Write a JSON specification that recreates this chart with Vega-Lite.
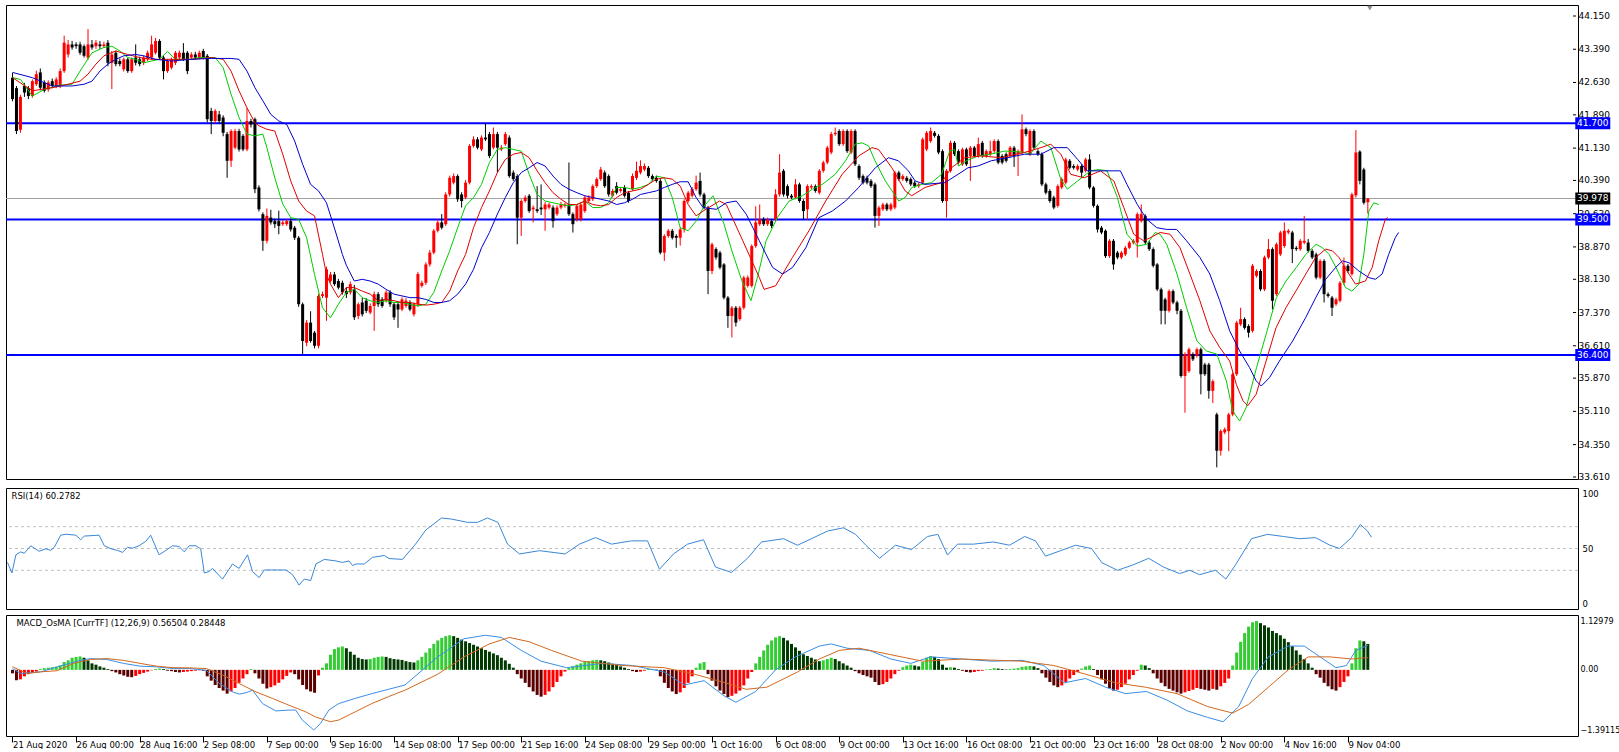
{
"$schema":"https://vega.github.io/schema/vega-lite/v6.json",
"padding":{"left":4,"top":4,"right":0,"bottom":0},
"background":"#ffffff",
"spacing":4,
"config":{"view":{"stroke":"#000000","strokeWidth":1},"axis":{"labelFont":"DejaVu Sans","labelFontSize":8.5,"labelColor":"#000000","tickColor":"#000000","domain":false,"grid":false,"labelOverlap":false},"text":{"font":"DejaVu Sans","fontSize":8.5}},
"resolve":{"scale":{"color":"independent"}},
"datasets":{
"bars":[
{"i":0,"o":42.74,"h":42.85,"l":42.2,"c":42.25,"m":-0.08},
{"i":1,"o":42.5,"h":42.55,"l":41.45,"c":41.52,"m":-0.24},
{"i":2,"o":41.55,"h":42.35,"l":41.48,"c":42.3,"m":-0.22},
{"i":3,"o":42.55,"h":42.62,"l":42.3,"c":42.4,"m":-0.15},
{"i":4,"o":42.5,"h":42.55,"l":42.25,"c":42.32,"m":-0.1},
{"i":5,"o":42.32,"h":42.7,"l":42.28,"c":42.66,"m":-0.07},
{"i":6,"o":42.59,"h":42.9,"l":42.55,"c":42.82,"m":-0.04},
{"i":7,"o":42.86,"h":42.95,"l":42.45,"c":42.51,"m":0.02},
{"i":8,"o":42.63,"h":42.68,"l":42.4,"c":42.44,"m":0.04},
{"i":9,"o":42.47,"h":42.68,"l":42.42,"c":42.63,"m":0.05},
{"i":10,"o":42.66,"h":42.72,"l":42.5,"c":42.55,"m":0.06},
{"i":11,"o":42.55,"h":42.75,"l":42.5,"c":42.7,"m":0.07},
{"i":12,"o":42.55,"h":42.95,"l":42.5,"c":42.89,"m":0.1},
{"i":13,"o":42.89,"h":43.7,"l":42.85,"c":43.54,"m":0.18},
{"i":14,"o":43.27,"h":43.6,"l":43.2,"c":43.5,"m":0.22},
{"i":15,"o":43.5,"h":43.58,"l":43.38,"c":43.43,"m":0.28},
{"i":16,"o":43.5,"h":43.55,"l":43.4,"c":43.46,"m":0.3},
{"i":17,"o":43.5,"h":43.56,"l":43.26,"c":43.31,"m":0.31},
{"i":18,"o":43.46,"h":43.5,"l":43.2,"c":43.24,"m":0.28},
{"i":19,"o":43.2,"h":43.85,"l":43.15,"c":43.5,"m":0.22},
{"i":20,"o":43.5,"h":43.6,"l":43.38,"c":43.43,"m":0.15},
{"i":21,"o":43.46,"h":43.6,"l":43.4,"c":43.54,"m":0.12},
{"i":22,"o":43.5,"h":43.58,"l":43.4,"c":43.46,"m":0.08},
{"i":23,"o":43.46,"h":43.56,"l":43.42,"c":43.5,"m":0.05},
{"i":24,"o":43.54,"h":43.6,"l":43.0,"c":43.08,"m":0.02},
{"i":25,"o":43.08,"h":43.35,"l":42.48,"c":43.27,"m":-0.03},
{"i":26,"o":43.31,"h":43.36,"l":43.0,"c":43.05,"m":-0.06},
{"i":27,"o":43.12,"h":43.18,"l":43.0,"c":43.05,"m":-0.1},
{"i":28,"o":42.93,"h":43.2,"l":42.88,"c":43.16,"m":-0.13},
{"i":29,"o":43.16,"h":43.2,"l":42.85,"c":42.89,"m":-0.16},
{"i":30,"o":42.89,"h":43.2,"l":42.85,"c":43.16,"m":-0.17},
{"i":31,"o":43.2,"h":43.5,"l":43.02,"c":43.08,"m":-0.14},
{"i":32,"o":43.16,"h":43.22,"l":43.0,"c":43.05,"m":-0.1},
{"i":33,"o":43.08,"h":43.25,"l":43.03,"c":43.2,"m":-0.07},
{"i":34,"o":43.16,"h":43.36,"l":43.12,"c":43.31,"m":-0.04},
{"i":35,"o":43.2,"h":43.7,"l":43.15,"c":43.5,"m":-0.01},
{"i":36,"o":43.31,"h":43.65,"l":43.27,"c":43.58,"m":0.02},
{"i":37,"o":43.58,"h":43.62,"l":43.15,"c":43.2,"m":0.03},
{"i":38,"o":43.2,"h":43.25,"l":42.7,"c":42.89,"m":0.02},
{"i":39,"o":42.89,"h":43.16,"l":42.85,"c":43.12,"m":-0.02},
{"i":40,"o":42.97,"h":43.2,"l":42.93,"c":43.16,"m":-0.03},
{"i":41,"o":43.08,"h":43.35,"l":43.03,"c":43.31,"m":-0.05},
{"i":42,"o":43.2,"h":43.36,"l":43.16,"c":43.31,"m":-0.06},
{"i":43,"o":43.31,"h":43.53,"l":43.12,"c":43.16,"m":-0.05},
{"i":44,"o":43.31,"h":43.35,"l":42.82,"c":42.89,"m":-0.04},
{"i":45,"o":43.2,"h":43.32,"l":43.15,"c":43.27,"m":-0.03},
{"i":46,"o":43.27,"h":43.33,"l":43.15,"c":43.2,"m":-0.02},
{"i":47,"o":43.2,"h":43.36,"l":43.16,"c":43.31,"m":-0.01},
{"i":48,"o":43.35,"h":43.4,"l":43.16,"c":43.2,"m":-0.02},
{"i":49,"o":43.24,"h":43.28,"l":41.72,"c":41.79,"m":-0.15},
{"i":50,"o":41.98,"h":42.05,"l":41.45,"c":41.75,"m":-0.25},
{"i":51,"o":41.75,"h":42.02,"l":41.7,"c":41.98,"m":-0.35},
{"i":52,"o":41.9,"h":41.98,"l":41.7,"c":41.75,"m":-0.42},
{"i":53,"o":41.83,"h":41.88,"l":41.4,"c":41.48,"m":-0.48},
{"i":54,"o":41.45,"h":41.5,"l":40.45,"c":40.84,"m":-0.55},
{"i":55,"o":40.84,"h":41.56,"l":40.7,"c":41.52,"m":-0.5},
{"i":56,"o":41.14,"h":41.57,"l":41.1,"c":41.52,"m":-0.42},
{"i":57,"o":41.52,"h":41.57,"l":41.05,"c":41.1,"m":-0.3},
{"i":58,"o":41.41,"h":41.45,"l":41.06,"c":41.1,"m":-0.2},
{"i":59,"o":41.1,"h":42.05,"l":41.06,"c":41.75,"m":-0.1},
{"i":60,"o":41.75,"h":41.8,"l":41.6,"c":41.67,"m":0.02},
{"i":61,"o":41.79,"h":41.83,"l":40.1,"c":40.19,"m":-0.08},
{"i":62,"o":40.23,"h":40.28,"l":39.68,"c":39.73,"m":-0.2},
{"i":63,"o":39.62,"h":39.66,"l":38.78,"c":39.01,"m":-0.32},
{"i":64,"o":39.01,"h":39.75,"l":38.95,"c":39.58,"m":-0.43},
{"i":65,"o":39.54,"h":39.72,"l":39.38,"c":39.43,"m":-0.4},
{"i":66,"o":39.46,"h":39.52,"l":39.3,"c":39.39,"m":-0.36},
{"i":67,"o":39.46,"h":39.7,"l":39.16,"c":39.35,"m":-0.3},
{"i":68,"o":39.39,"h":39.48,"l":39.35,"c":39.43,"m":-0.22},
{"i":69,"o":39.39,"h":39.5,"l":39.35,"c":39.46,"m":-0.14},
{"i":70,"o":39.46,"h":39.52,"l":39.22,"c":39.27,"m":-0.06},
{"i":71,"o":39.31,"h":39.35,"l":39.03,"c":39.08,"m":-0.1},
{"i":72,"o":39.08,"h":39.12,"l":37.5,"c":37.56,"m":-0.22},
{"i":73,"o":37.56,"h":37.6,"l":36.42,"c":36.72,"m":-0.35},
{"i":74,"o":36.68,"h":37.2,"l":36.6,"c":37.14,"m":-0.45},
{"i":75,"o":37.14,"h":37.4,"l":36.68,"c":36.72,"m":-0.5},
{"i":76,"o":36.91,"h":36.95,"l":36.55,"c":36.61,"m":-0.53},
{"i":77,"o":36.61,"h":37.8,"l":36.55,"c":37.75,"m":-0.13},
{"i":78,"o":37.75,"h":37.85,"l":37.7,"c":37.79,"m":0.05},
{"i":79,"o":37.71,"h":38.42,"l":37.18,"c":38.36,"m":0.15},
{"i":80,"o":38.09,"h":38.3,"l":38.05,"c":38.24,"m":0.35},
{"i":81,"o":38.24,"h":38.3,"l":37.98,"c":38.02,"m":0.48},
{"i":82,"o":38.09,"h":38.14,"l":37.9,"c":37.94,"m":0.52},
{"i":83,"o":38.05,"h":38.1,"l":37.78,"c":37.83,"m":0.54},
{"i":84,"o":37.86,"h":37.95,"l":37.7,"c":37.79,"m":0.5},
{"i":85,"o":37.83,"h":38.08,"l":37.78,"c":38.02,"m":0.42},
{"i":86,"o":37.9,"h":38.0,"l":37.2,"c":37.26,"m":0.35},
{"i":87,"o":37.29,"h":37.6,"l":37.22,"c":37.56,"m":0.28},
{"i":88,"o":37.6,"h":37.71,"l":37.28,"c":37.33,"m":0.25},
{"i":89,"o":37.64,"h":37.7,"l":37.36,"c":37.41,"m":0.24},
{"i":90,"o":37.37,"h":37.58,"l":37.33,"c":37.52,"m":0.25},
{"i":91,"o":37.52,"h":37.85,"l":36.95,"c":37.79,"m":0.28},
{"i":92,"o":37.79,"h":37.84,"l":37.5,"c":37.56,"m":0.3},
{"i":93,"o":37.67,"h":37.72,"l":37.48,"c":37.52,"m":0.31},
{"i":94,"o":37.64,"h":37.88,"l":37.6,"c":37.83,"m":0.3},
{"i":95,"o":37.83,"h":37.88,"l":37.5,"c":37.56,"m":0.27},
{"i":96,"o":37.56,"h":37.6,"l":37.2,"c":37.26,"m":0.25},
{"i":97,"o":37.56,"h":37.6,"l":37.02,"c":37.44,"m":0.24},
{"i":98,"o":37.44,"h":37.72,"l":37.4,"c":37.67,"m":0.23},
{"i":99,"o":37.52,"h":37.7,"l":37.48,"c":37.64,"m":0.2},
{"i":100,"o":37.6,"h":37.65,"l":37.4,"c":37.44,"m":0.18},
{"i":101,"o":37.33,"h":37.6,"l":37.28,"c":37.56,"m":0.17},
{"i":102,"o":37.56,"h":38.3,"l":37.5,"c":38.25,"m":0.22},
{"i":103,"o":37.98,"h":38.1,"l":37.94,"c":38.05,"m":0.3},
{"i":104,"o":38.05,"h":38.52,"l":38.0,"c":38.47,"m":0.4},
{"i":105,"o":38.47,"h":38.8,"l":38.42,"c":38.74,"m":0.5},
{"i":106,"o":38.74,"h":39.28,"l":38.7,"c":39.24,"m":0.6},
{"i":107,"o":39.24,"h":39.5,"l":39.2,"c":39.43,"m":0.68},
{"i":108,"o":39.43,"h":39.62,"l":39.27,"c":39.31,"m":0.74},
{"i":109,"o":39.39,"h":40.12,"l":39.35,"c":40.07,"m":0.78},
{"i":110,"o":40.07,"h":40.5,"l":40.02,"c":40.45,"m":0.8},
{"i":111,"o":40.34,"h":40.55,"l":40.3,"c":40.49,"m":0.78},
{"i":112,"o":40.49,"h":40.53,"l":39.9,"c":39.96,"m":0.74},
{"i":113,"o":40.07,"h":40.12,"l":39.77,"c":39.92,"m":0.7},
{"i":114,"o":40.0,"h":40.4,"l":39.96,"c":40.34,"m":0.66},
{"i":115,"o":40.34,"h":41.22,"l":40.3,"c":41.18,"m":0.62},
{"i":116,"o":41.18,"h":41.4,"l":41.14,"c":41.33,"m":0.58},
{"i":117,"o":41.33,"h":41.38,"l":41.1,"c":41.14,"m":0.54},
{"i":118,"o":41.1,"h":41.42,"l":41.06,"c":41.37,"m":0.5},
{"i":119,"o":41.37,"h":41.71,"l":41.29,"c":41.33,"m":0.46},
{"i":120,"o":41.45,"h":41.5,"l":40.9,"c":40.95,"m":0.42},
{"i":121,"o":41.14,"h":41.6,"l":41.1,"c":41.45,"m":0.38},
{"i":122,"o":41.45,"h":41.5,"l":40.57,"c":41.14,"m":0.34},
{"i":123,"o":41.1,"h":41.2,"l":41.06,"c":41.14,"m":0.28},
{"i":124,"o":41.22,"h":41.5,"l":41.18,"c":41.45,"m":0.22},
{"i":125,"o":41.37,"h":41.42,"l":40.45,"c":40.49,"m":0.14},
{"i":126,"o":40.57,"h":40.62,"l":40.38,"c":40.42,"m":0.05},
{"i":127,"o":40.49,"h":40.53,"l":38.93,"c":39.54,"m":-0.1},
{"i":128,"o":39.54,"h":39.96,"l":39.12,"c":39.92,"m":-0.2},
{"i":129,"o":39.92,"h":40.05,"l":39.88,"c":40.0,"m":-0.3},
{"i":130,"o":40.04,"h":40.08,"l":39.65,"c":39.69,"m":-0.4},
{"i":131,"o":39.73,"h":39.82,"l":39.43,"c":39.77,"m":-0.5},
{"i":132,"o":39.73,"h":40.26,"l":39.65,"c":39.69,"m":-0.58},
{"i":133,"o":39.77,"h":40.3,"l":39.6,"c":39.73,"m":-0.62},
{"i":134,"o":39.73,"h":39.9,"l":39.24,"c":39.84,"m":-0.58},
{"i":135,"o":39.77,"h":39.88,"l":39.73,"c":39.84,"m":-0.5},
{"i":136,"o":39.77,"h":39.82,"l":39.31,"c":39.46,"m":-0.4},
{"i":137,"o":39.62,"h":39.82,"l":39.58,"c":39.77,"m":-0.28},
{"i":138,"o":39.77,"h":39.9,"l":39.73,"c":39.84,"m":-0.15},
{"i":139,"o":39.81,"h":39.88,"l":39.77,"c":39.84,"m":-0.04},
{"i":140,"o":39.84,"h":40.8,"l":39.58,"c":39.62,"m":0.04},
{"i":141,"o":39.62,"h":39.66,"l":39.2,"c":39.39,"m":0.08},
{"i":142,"o":39.5,"h":39.85,"l":39.45,"c":39.81,"m":0.12},
{"i":143,"o":39.5,"h":39.88,"l":39.45,"c":39.84,"m":0.15},
{"i":144,"o":39.69,"h":40.05,"l":39.65,"c":40.0,"m":0.18},
{"i":145,"o":39.92,"h":40.05,"l":39.88,"c":40.0,"m":0.2},
{"i":146,"o":39.96,"h":40.3,"l":39.92,"c":40.26,"m":0.22},
{"i":147,"o":40.26,"h":40.46,"l":40.22,"c":40.42,"m":0.23},
{"i":148,"o":40.42,"h":40.7,"l":40.38,"c":40.64,"m":0.22},
{"i":149,"o":40.57,"h":40.62,"l":40.22,"c":40.26,"m":0.2},
{"i":150,"o":40.49,"h":40.53,"l":40.02,"c":40.07,"m":0.17},
{"i":151,"o":40.04,"h":40.2,"l":40.0,"c":40.15,"m":0.14},
{"i":152,"o":40.26,"h":40.35,"l":40.07,"c":40.11,"m":0.11},
{"i":153,"o":40.15,"h":40.24,"l":40.11,"c":40.19,"m":0.08},
{"i":154,"o":40.23,"h":40.28,"l":40.0,"c":40.04,"m":0.05},
{"i":155,"o":40.11,"h":40.15,"l":39.88,"c":39.92,"m":0.02},
{"i":156,"o":40.19,"h":40.55,"l":40.15,"c":40.49,"m":-0.03},
{"i":157,"o":40.45,"h":40.82,"l":40.4,"c":40.61,"m":-0.05},
{"i":158,"o":40.57,"h":40.85,"l":40.53,"c":40.72,"m":-0.04},
{"i":159,"o":40.64,"h":40.78,"l":40.6,"c":40.72,"m":-0.02},
{"i":160,"o":40.68,"h":40.72,"l":40.45,"c":40.49,"m":0.02},
{"i":161,"o":40.49,"h":40.53,"l":40.38,"c":40.42,"m":0.02},
{"i":162,"o":40.45,"h":40.5,"l":40.34,"c":40.38,"m":0.01},
{"i":163,"o":40.38,"h":40.42,"l":38.7,"c":38.74,"m":-0.15},
{"i":164,"o":38.74,"h":39.16,"l":38.55,"c":39.12,"m":-0.3},
{"i":165,"o":39.12,"h":39.28,"l":39.08,"c":39.24,"m":-0.42},
{"i":166,"o":39.24,"h":39.28,"l":39.04,"c":39.08,"m":-0.5},
{"i":167,"o":39.12,"h":39.16,"l":38.85,"c":39.08,"m":-0.56},
{"i":168,"o":39.08,"h":39.31,"l":38.9,"c":39.27,"m":-0.52},
{"i":169,"o":39.27,"h":39.96,"l":39.2,"c":39.92,"m":-0.42},
{"i":170,"o":39.92,"h":40.15,"l":39.88,"c":40.11,"m":-0.3},
{"i":171,"o":40.04,"h":40.24,"l":40.0,"c":40.19,"m":-0.15},
{"i":172,"o":40.19,"h":40.5,"l":40.15,"c":40.34,"m":0.05},
{"i":173,"o":40.38,"h":40.57,"l":40.02,"c":40.07,"m":0.15},
{"i":174,"o":40.07,"h":40.11,"l":39.73,"c":39.77,"m":0.18},
{"i":175,"o":39.77,"h":39.81,"l":37.79,"c":38.32,"m":-0.1},
{"i":176,"o":38.32,"h":38.97,"l":38.25,"c":38.93,"m":-0.25},
{"i":177,"o":38.82,"h":38.86,"l":38.58,"c":38.63,"m":-0.38},
{"i":178,"o":38.74,"h":38.78,"l":38.36,"c":38.4,"m":-0.48},
{"i":179,"o":38.47,"h":38.5,"l":37.67,"c":37.71,"m":-0.56},
{"i":180,"o":37.71,"h":37.75,"l":37.02,"c":37.29,"m":-0.63},
{"i":181,"o":37.29,"h":37.52,"l":36.8,"c":37.48,"m":-0.6},
{"i":182,"o":37.48,"h":37.52,"l":37.05,"c":37.14,"m":-0.55},
{"i":183,"o":37.22,"h":37.52,"l":37.18,"c":37.48,"m":-0.48},
{"i":184,"o":37.48,"h":38.21,"l":37.44,"c":38.17,"m":-0.36},
{"i":185,"o":37.98,"h":38.22,"l":37.94,"c":38.17,"m":-0.2},
{"i":186,"o":37.98,"h":38.93,"l":37.94,"c":38.89,"m":-0.05},
{"i":187,"o":38.89,"h":39.8,"l":38.85,"c":39.43,"m":0.15},
{"i":188,"o":39.39,"h":39.84,"l":39.35,"c":39.5,"m":0.3},
{"i":189,"o":39.5,"h":39.55,"l":39.35,"c":39.39,"m":0.45},
{"i":190,"o":39.39,"h":39.54,"l":39.35,"c":39.5,"m":0.58},
{"i":191,"o":39.46,"h":39.5,"l":39.3,"c":39.35,"m":0.68},
{"i":192,"o":39.5,"h":40.19,"l":39.45,"c":40.07,"m":0.75},
{"i":193,"o":40.07,"h":40.99,"l":40.02,"c":40.57,"m":0.78},
{"i":194,"o":40.61,"h":40.65,"l":40.02,"c":40.07,"m":0.74},
{"i":195,"o":40.26,"h":40.3,"l":39.98,"c":40.04,"m":0.68},
{"i":196,"o":40.04,"h":40.08,"l":39.96,"c":40.0,"m":0.6},
{"i":197,"o":40.0,"h":40.42,"l":39.96,"c":40.3,"m":0.52},
{"i":198,"o":40.3,"h":40.34,"l":39.88,"c":39.92,"m":0.44},
{"i":199,"o":39.92,"h":39.96,"l":39.5,"c":39.69,"m":0.36},
{"i":200,"o":39.73,"h":40.3,"l":39.5,"c":40.26,"m":0.32},
{"i":201,"o":40.23,"h":40.3,"l":40.19,"c":40.26,"m":0.28},
{"i":202,"o":40.26,"h":40.3,"l":40.11,"c":40.15,"m":0.24},
{"i":203,"o":40.11,"h":40.65,"l":40.07,"c":40.61,"m":0.2},
{"i":204,"o":40.61,"h":40.84,"l":40.57,"c":40.8,"m":0.22},
{"i":205,"o":40.8,"h":41.18,"l":40.76,"c":41.14,"m":0.25},
{"i":206,"o":41.03,"h":41.5,"l":40.99,"c":41.45,"m":0.28},
{"i":207,"o":41.45,"h":41.6,"l":41.41,"c":41.48,"m":0.25},
{"i":208,"o":41.52,"h":41.56,"l":41.18,"c":41.22,"m":0.2},
{"i":209,"o":41.22,"h":41.56,"l":41.18,"c":41.52,"m":0.15},
{"i":210,"o":41.52,"h":41.56,"l":41.02,"c":41.06,"m":0.1},
{"i":211,"o":41.03,"h":41.56,"l":40.99,"c":41.52,"m":0.05},
{"i":212,"o":41.52,"h":41.56,"l":40.72,"c":40.76,"m":-0.03},
{"i":213,"o":40.72,"h":40.76,"l":40.4,"c":40.45,"m":-0.08},
{"i":214,"o":40.49,"h":40.53,"l":40.3,"c":40.34,"m":-0.12},
{"i":215,"o":40.45,"h":40.5,"l":40.3,"c":40.34,"m":-0.15},
{"i":216,"o":40.38,"h":40.42,"l":40.22,"c":40.26,"m":-0.18},
{"i":217,"o":40.3,"h":40.34,"l":39.31,"c":39.58,"m":-0.28},
{"i":218,"o":39.58,"h":39.81,"l":39.35,"c":39.77,"m":-0.35},
{"i":219,"o":39.73,"h":39.88,"l":39.69,"c":39.84,"m":-0.33},
{"i":220,"o":39.84,"h":39.88,"l":39.69,"c":39.73,"m":-0.28},
{"i":221,"o":39.73,"h":39.88,"l":39.69,"c":39.84,"m":-0.2},
{"i":222,"o":39.77,"h":40.61,"l":39.73,"c":40.57,"m":-0.1},
{"i":223,"o":40.57,"h":40.61,"l":40.38,"c":40.42,"m":-0.02},
{"i":224,"o":40.42,"h":40.53,"l":40.38,"c":40.49,"m":0.06},
{"i":225,"o":40.45,"h":40.49,"l":40.34,"c":40.38,"m":0.1},
{"i":226,"o":40.42,"h":40.46,"l":40.26,"c":40.3,"m":0.12},
{"i":227,"o":40.34,"h":40.38,"l":40.22,"c":40.26,"m":0.1},
{"i":228,"o":40.26,"h":40.34,"l":40.22,"c":40.3,"m":0.08},
{"i":229,"o":40.34,"h":41.37,"l":40.3,"c":41.33,"m":0.18},
{"i":230,"o":41.1,"h":41.52,"l":41.06,"c":41.48,"m":0.28},
{"i":231,"o":41.29,"h":41.6,"l":41.25,"c":41.52,"m":0.32},
{"i":232,"o":41.48,"h":41.52,"l":41.37,"c":41.41,"m":0.3},
{"i":233,"o":41.41,"h":41.45,"l":40.99,"c":41.03,"m":0.25},
{"i":234,"o":41.06,"h":41.1,"l":39.88,"c":39.92,"m":0.12},
{"i":235,"o":39.92,"h":40.65,"l":39.54,"c":40.61,"m":0.05},
{"i":236,"o":40.61,"h":41.3,"l":40.57,"c":41.25,"m":0.06},
{"i":237,"o":41.25,"h":41.29,"l":40.95,"c":40.99,"m":0.05},
{"i":238,"o":41.06,"h":41.1,"l":40.76,"c":40.8,"m":0.02},
{"i":239,"o":40.76,"h":41.14,"l":40.72,"c":41.1,"m":-0.02},
{"i":240,"o":41.1,"h":41.14,"l":40.72,"c":40.76,"m":-0.05},
{"i":241,"o":40.95,"h":41.18,"l":40.38,"c":41.14,"m":-0.06},
{"i":242,"o":41.14,"h":41.18,"l":40.91,"c":40.95,"m":-0.05},
{"i":243,"o":40.95,"h":41.37,"l":40.91,"c":41.22,"m":-0.03},
{"i":244,"o":41.25,"h":41.29,"l":40.91,"c":40.95,"m":-0.02},
{"i":245,"o":40.95,"h":41.1,"l":40.91,"c":41.06,"m":0.01},
{"i":246,"o":40.99,"h":41.3,"l":40.95,"c":41.06,"m":0.02},
{"i":247,"o":41.06,"h":41.33,"l":41.02,"c":41.29,"m":0.04},
{"i":248,"o":41.29,"h":41.33,"l":40.76,"c":40.8,"m":0.03},
{"i":249,"o":40.95,"h":40.99,"l":40.76,"c":40.8,"m":0.02},
{"i":250,"o":40.99,"h":41.03,"l":40.8,"c":40.84,"m":0.01},
{"i":251,"o":40.95,"h":41.18,"l":40.91,"c":41.14,"m":0.02},
{"i":252,"o":41.14,"h":41.18,"l":40.7,"c":40.95,"m":0.03},
{"i":253,"o":40.99,"h":41.1,"l":40.49,"c":41.06,"m":0.04},
{"i":254,"o":41.03,"h":41.9,"l":40.99,"c":41.56,"m":0.07},
{"i":255,"o":41.56,"h":41.6,"l":41.4,"c":41.45,"m":0.08},
{"i":256,"o":40.99,"h":41.56,"l":40.95,"c":41.52,"m":0.09},
{"i":257,"o":41.52,"h":41.56,"l":41.1,"c":41.14,"m":0.08},
{"i":258,"o":41.06,"h":41.1,"l":40.95,"c":40.99,"m":0.04},
{"i":259,"o":40.99,"h":41.03,"l":40.26,"c":40.3,"m":-0.08},
{"i":260,"o":40.3,"h":40.34,"l":40.07,"c":40.11,"m":-0.18},
{"i":261,"o":40.15,"h":40.19,"l":39.88,"c":39.92,"m":-0.28},
{"i":262,"o":40.0,"h":40.04,"l":39.73,"c":39.77,"m":-0.36},
{"i":263,"o":39.81,"h":40.3,"l":39.77,"c":40.26,"m":-0.4},
{"i":264,"o":40.23,"h":40.46,"l":40.19,"c":40.42,"m":-0.36},
{"i":265,"o":40.34,"h":40.91,"l":40.3,"c":40.87,"m":-0.28},
{"i":266,"o":40.84,"h":40.88,"l":40.64,"c":40.68,"m":-0.2},
{"i":267,"o":40.72,"h":40.76,"l":40.64,"c":40.68,"m":-0.12},
{"i":268,"o":40.64,"h":40.76,"l":40.6,"c":40.72,"m":-0.05},
{"i":269,"o":40.72,"h":40.76,"l":40.45,"c":40.57,"m":0.03},
{"i":270,"o":40.61,"h":40.91,"l":40.57,"c":40.87,"m":0.08},
{"i":271,"o":40.87,"h":40.99,"l":40.19,"c":40.23,"m":0.1},
{"i":272,"o":40.23,"h":40.26,"l":39.77,"c":39.81,"m":0.02},
{"i":273,"o":39.81,"h":39.84,"l":39.2,"c":39.27,"m":-0.12},
{"i":274,"o":39.31,"h":39.35,"l":39.16,"c":39.2,"m":-0.22},
{"i":275,"o":39.24,"h":39.27,"l":38.62,"c":38.66,"m":-0.32},
{"i":276,"o":38.66,"h":39.05,"l":38.62,"c":39.01,"m":-0.42},
{"i":277,"o":39.01,"h":39.05,"l":38.35,"c":38.47,"m":-0.48},
{"i":278,"o":38.74,"h":38.78,"l":38.59,"c":38.63,"m":-0.46},
{"i":279,"o":38.63,"h":38.78,"l":38.59,"c":38.74,"m":-0.4},
{"i":280,"o":38.7,"h":38.89,"l":38.66,"c":38.85,"m":-0.32},
{"i":281,"o":38.85,"h":39.01,"l":38.82,"c":38.97,"m":-0.22},
{"i":282,"o":38.97,"h":39.05,"l":38.93,"c":39.01,"m":-0.12},
{"i":283,"o":38.97,"h":39.66,"l":38.63,"c":39.62,"m":-0.02},
{"i":284,"o":39.46,"h":39.84,"l":39.43,"c":39.62,"m":0.12},
{"i":285,"o":39.58,"h":39.62,"l":38.93,"c":38.97,"m":0.1},
{"i":286,"o":38.97,"h":39.01,"l":38.78,"c":38.82,"m":0.04},
{"i":287,"o":38.82,"h":38.86,"l":38.4,"c":38.44,"m":-0.08},
{"i":288,"o":38.47,"h":38.5,"l":37.86,"c":37.9,"m":-0.2},
{"i":289,"o":37.9,"h":37.94,"l":37.1,"c":37.41,"m":-0.3},
{"i":290,"o":37.67,"h":37.71,"l":37.1,"c":37.41,"m":-0.38},
{"i":291,"o":37.41,"h":37.9,"l":37.37,"c":37.86,"m":-0.44},
{"i":292,"o":37.86,"h":37.9,"l":37.56,"c":37.6,"m":-0.48},
{"i":293,"o":37.6,"h":37.64,"l":37.33,"c":37.41,"m":-0.52},
{"i":294,"o":37.41,"h":37.45,"l":35.88,"c":35.92,"m":-0.55},
{"i":295,"o":35.92,"h":36.46,"l":35.08,"c":36.42,"m":-0.52},
{"i":296,"o":36.03,"h":36.57,"l":35.99,"c":36.53,"m":-0.49},
{"i":297,"o":36.42,"h":36.46,"l":36.26,"c":36.3,"m":-0.46},
{"i":298,"o":36.38,"h":36.57,"l":36.34,"c":36.53,"m":-0.42},
{"i":299,"o":36.53,"h":36.57,"l":35.5,"c":35.96,"m":-0.44},
{"i":300,"o":36.18,"h":36.22,"l":35.92,"c":35.96,"m":-0.46},
{"i":301,"o":36.18,"h":36.22,"l":35.4,"c":35.58,"m":-0.48},
{"i":302,"o":35.58,"h":35.84,"l":35.3,"c":35.8,"m":-0.44},
{"i":303,"o":35.04,"h":35.08,"l":33.83,"c":34.21,"m":-0.46},
{"i":304,"o":34.21,"h":34.7,"l":34.1,"c":34.66,"m":-0.38},
{"i":305,"o":34.63,"h":34.74,"l":34.59,"c":34.7,"m":-0.3},
{"i":306,"o":34.66,"h":35.08,"l":34.2,"c":35.04,"m":-0.2},
{"i":307,"o":35.04,"h":36.0,"l":35.0,"c":35.96,"m":0.1},
{"i":308,"o":35.96,"h":37.18,"l":35.92,"c":37.14,"m":0.4},
{"i":309,"o":37.1,"h":37.48,"l":37.06,"c":37.22,"m":0.65},
{"i":310,"o":37.22,"h":37.26,"l":36.98,"c":37.02,"m":0.85},
{"i":311,"o":37.06,"h":37.1,"l":36.8,"c":36.91,"m":1.0},
{"i":312,"o":36.95,"h":38.48,"l":36.91,"c":38.44,"m":1.1},
{"i":313,"o":38.21,"h":38.36,"l":38.17,"c":38.32,"m":1.13},
{"i":314,"o":38.32,"h":38.36,"l":37.86,"c":37.9,"m":1.08},
{"i":315,"o":37.9,"h":38.67,"l":37.86,"c":38.63,"m":1.03},
{"i":316,"o":38.63,"h":39.05,"l":38.59,"c":38.82,"m":0.98},
{"i":317,"o":38.82,"h":38.86,"l":37.44,"c":37.64,"m":0.9},
{"i":318,"o":37.79,"h":38.97,"l":37.75,"c":38.93,"m":0.85},
{"i":319,"o":38.7,"h":39.24,"l":38.66,"c":39.2,"m":0.8},
{"i":320,"o":38.89,"h":39.43,"l":38.85,"c":39.24,"m":0.72},
{"i":321,"o":39.2,"h":39.28,"l":39.16,"c":39.24,"m":0.64},
{"i":322,"o":39.2,"h":39.24,"l":38.5,"c":38.82,"m":0.55},
{"i":323,"o":38.85,"h":38.89,"l":38.78,"c":38.82,"m":0.45},
{"i":324,"o":38.82,"h":39.05,"l":38.78,"c":39.01,"m":0.35},
{"i":325,"o":38.97,"h":39.58,"l":38.93,"c":39.01,"m":0.25},
{"i":326,"o":38.97,"h":39.05,"l":38.74,"c":38.78,"m":0.15},
{"i":327,"o":38.78,"h":38.82,"l":38.59,"c":38.63,"m":0.05},
{"i":328,"o":38.7,"h":38.74,"l":38.13,"c":38.17,"m":-0.1},
{"i":329,"o":38.17,"h":38.59,"l":38.13,"c":38.55,"m":-0.18},
{"i":330,"o":38.55,"h":38.59,"l":37.6,"c":37.79,"m":-0.3},
{"i":331,"o":37.79,"h":37.83,"l":37.71,"c":37.75,"m":-0.38},
{"i":332,"o":37.71,"h":37.75,"l":37.29,"c":37.48,"m":-0.45},
{"i":333,"o":37.56,"h":37.71,"l":37.52,"c":37.67,"m":-0.48},
{"i":334,"o":37.64,"h":38.09,"l":37.6,"c":38.05,"m":-0.4},
{"i":335,"o":38.05,"h":38.63,"l":38.0,"c":38.44,"m":-0.28},
{"i":336,"o":38.44,"h":38.48,"l":38.28,"c":38.32,"m":-0.15},
{"i":337,"o":38.25,"h":40.11,"l":38.21,"c":40.07,"m":0.15},
{"i":338,"o":40.05,"h":41.54,"l":40.0,"c":41.03,"m":0.5},
{"i":339,"o":41.05,"h":41.08,"l":40.3,"c":40.38,"m":0.68},
{"i":340,"o":40.64,"h":40.68,"l":39.84,"c":39.88,"m":0.66},
{"i":341,"o":39.892,"h":39.983,"l":39.634,"c":39.978,"m":0.6}
],
"allig":[
{"s":"lips","i":0,"p":42.74},{"s":"lips","i":2,"p":42.7},{"s":"lips","i":5,"p":42.32},{"s":"lips","i":8,"p":42.47},{"s":"lips","i":12,"p":42.57},{"s":"lips","i":15,"p":42.59},{"s":"lips","i":17,"p":42.89},{"s":"lips","i":20,"p":43.31},{"s":"lips","i":23,"p":43.43},{"s":"lips","i":25,"p":43.46},{"s":"lips","i":27,"p":43.35},{"s":"lips","i":29,"p":43.2},{"s":"lips","i":31,"p":43.16},{"s":"lips","i":33,"p":43.08},{"s":"lips","i":35,"p":43.12},{"s":"lips","i":37,"p":43.16},{"s":"lips","i":39,"p":43.34},{"s":"lips","i":41,"p":43.16},{"s":"lips","i":43,"p":43.16},{"s":"lips","i":45,"p":43.16},{"s":"lips","i":47,"p":43.2},{"s":"lips","i":49,"p":43.2},{"s":"lips","i":51,"p":43.2},{"s":"lips","i":53,"p":42.97},{"s":"lips","i":55,"p":42.36},{"s":"lips","i":57,"p":41.83},{"s":"lips","i":59,"p":41.45},{"s":"lips","i":61,"p":41.41},{"s":"lips","i":63,"p":41.45},{"s":"lips","i":64,"p":41.14},{"s":"lips","i":66,"p":40.45},{"s":"lips","i":68,"p":39.85},{"s":"lips","i":70,"p":39.54},{"s":"lips","i":72,"p":39.5},{"s":"lips","i":74,"p":39.08},{"s":"lips","i":76,"p":38.24},{"s":"lips","i":78,"p":37.48},{"s":"lips","i":80,"p":37.25},{"s":"lips","i":82,"p":37.56},{"s":"lips","i":84,"p":37.83},{"s":"lips","i":86,"p":37.9},{"s":"lips","i":88,"p":37.71},{"s":"lips","i":90,"p":37.64},{"s":"lips","i":92,"p":37.6},{"s":"lips","i":94,"p":37.64},{"s":"lips","i":96,"p":37.6},{"s":"lips","i":98,"p":37.6},{"s":"lips","i":100,"p":37.56},{"s":"lips","i":102,"p":37.52},{"s":"lips","i":104,"p":37.56},{"s":"lips","i":106,"p":37.83},{"s":"lips","i":108,"p":38.32},{"s":"lips","i":110,"p":38.78},{"s":"lips","i":112,"p":39.31},{"s":"lips","i":114,"p":39.81},{"s":"lips","i":116,"p":40.0},{"s":"lips","i":118,"p":40.3},{"s":"lips","i":120,"p":40.8},{"s":"lips","i":122,"p":41.1},{"s":"lips","i":124,"p":41.14},{"s":"lips","i":126,"p":41.1},{"s":"lips","i":128,"p":41.06},{"s":"lips","i":130,"p":40.53},{"s":"lips","i":132,"p":40.07},{"s":"lips","i":134,"p":39.92},{"s":"lips","i":136,"p":39.88},{"s":"lips","i":138,"p":39.84},{"s":"lips","i":140,"p":39.81},{"s":"lips","i":142,"p":39.84},{"s":"lips","i":144,"p":39.92},{"s":"lips","i":146,"p":39.77},{"s":"lips","i":148,"p":39.77},{"s":"lips","i":150,"p":39.88},{"s":"lips","i":152,"p":40.23},{"s":"lips","i":154,"p":40.23},{"s":"lips","i":156,"p":40.19},{"s":"lips","i":158,"p":40.23},{"s":"lips","i":160,"p":40.3},{"s":"lips","i":162,"p":40.49},{"s":"lips","i":164,"p":40.45},{"s":"lips","i":166,"p":40.0},{"s":"lips","i":168,"p":39.31},{"s":"lips","i":170,"p":39.24},{"s":"lips","i":172,"p":39.46},{"s":"lips","i":174,"p":39.8},{"s":"lips","i":176.25,"p":40.04},{"s":"lips","i":179,"p":39.4},{"s":"lips","i":181,"p":38.78},{"s":"lips","i":183.5,"p":38.1},{"s":"lips","i":185.8,"p":37.64},{"s":"lips","i":187.5,"p":38.2},{"s":"lips","i":189.6,"p":39.01},{"s":"lips","i":192.5,"p":39.55},{"s":"lips","i":195.4,"p":39.92},{"s":"lips","i":198.75,"p":40.04},{"s":"lips","i":201.25,"p":40.19},{"s":"lips","i":203.75,"p":40.3},{"s":"lips","i":207,"p":40.53},{"s":"lips","i":209.6,"p":40.84},{"s":"lips","i":212,"p":41.22},{"s":"lips","i":213.75,"p":41.25},{"s":"lips","i":215.4,"p":41.18},{"s":"lips","i":217,"p":40.84},{"s":"lips","i":219.6,"p":40.38},{"s":"lips","i":223,"p":39.92},{"s":"lips","i":224.6,"p":40.0},{"s":"lips","i":226.25,"p":40.23},{"s":"lips","i":228.75,"p":40.3},{"s":"lips","i":231.25,"p":40.34},{"s":"lips","i":233.75,"p":40.53},{"s":"lips","i":235.8,"p":41.06},{"s":"lips","i":237,"p":41.1},{"s":"lips","i":238,"p":40.72},{"s":"lips","i":240,"p":40.84},{"s":"lips","i":243,"p":40.95},{"s":"lips","i":246,"p":40.99},{"s":"lips","i":249.6,"p":41.06},{"s":"lips","i":251,"p":41.06},{"s":"lips","i":254.6,"p":41.03},{"s":"lips","i":256,"p":40.99},{"s":"lips","i":258.75,"p":41.29},{"s":"lips","i":261.25,"p":41.14},{"s":"lips","i":263.75,"p":40.42},{"s":"lips","i":265.4,"p":40.19},{"s":"lips","i":268,"p":40.38},{"s":"lips","i":271.25,"p":40.61},{"s":"lips","i":273.3,"p":40.64},{"s":"lips","i":275.4,"p":40.61},{"s":"lips","i":278,"p":40.0},{"s":"lips","i":280.4,"p":39.16},{"s":"lips","i":283,"p":38.89},{"s":"lips","i":285.4,"p":38.93},{"s":"lips","i":287.5,"p":39.2},{"s":"lips","i":288.75,"p":39.16},{"s":"lips","i":290.4,"p":38.93},{"s":"lips","i":293,"p":38.25},{"s":"lips","i":295.4,"p":37.48},{"s":"lips","i":298,"p":36.72},{"s":"lips","i":300.4,"p":36.49},{"s":"lips","i":303,"p":36.42},{"s":"lips","i":305.4,"p":35.81},{"s":"lips","i":307,"p":35.12},{"s":"lips","i":308.75,"p":34.89},{"s":"lips","i":310.4,"p":35.2},{"s":"lips","i":313,"p":36.11},{"s":"lips","i":315.4,"p":36.87},{"s":"lips","i":318,"p":37.71},{"s":"lips","i":320.4,"p":38.09},{"s":"lips","i":323,"p":38.4},{"s":"lips","i":325.4,"p":38.7},{"s":"lips","i":328,"p":38.93},{"s":"lips","i":329.6,"p":38.85},{"s":"lips","i":331.25,"p":38.7},{"s":"lips","i":333,"p":38.4},{"s":"lips","i":335.4,"p":37.94},{"s":"lips","i":337,"p":37.86},{"s":"lips","i":338.75,"p":38.02},{"s":"lips","i":340,"p":38.7},{"s":"lips","i":341.25,"p":39.69},{"s":"lips","i":342.5,"p":39.88},{"s":"lips","i":343.75,"p":39.84},
{"s":"teeth","i":0,"p":42.74},{"s":"teeth","i":5,"p":42.44},{"s":"teeth","i":10,"p":42.51},{"s":"teeth","i":14,"p":42.59},{"s":"teeth","i":17,"p":42.66},{"s":"teeth","i":19,"p":42.82},{"s":"teeth","i":21,"p":43.05},{"s":"teeth","i":23,"p":43.24},{"s":"teeth","i":26,"p":43.35},{"s":"teeth","i":29,"p":43.27},{"s":"teeth","i":32,"p":43.2},{"s":"teeth","i":35,"p":43.16},{"s":"teeth","i":40,"p":43.16},{"s":"teeth","i":45,"p":43.16},{"s":"teeth","i":50,"p":43.2},{"s":"teeth","i":53,"p":43.16},{"s":"teeth","i":55,"p":42.89},{"s":"teeth","i":57,"p":42.44},{"s":"teeth","i":59,"p":42.05},{"s":"teeth","i":61,"p":41.71},{"s":"teeth","i":62,"p":41.64},{"s":"teeth","i":64,"p":41.56},{"s":"teeth","i":66,"p":41.52},{"s":"teeth","i":68,"p":40.99},{"s":"teeth","i":70,"p":40.38},{"s":"teeth","i":72,"p":39.92},{"s":"teeth","i":74,"p":39.69},{"s":"teeth","i":76,"p":39.58},{"s":"teeth","i":78,"p":38.7},{"s":"teeth","i":79,"p":38.24},{"s":"teeth","i":80,"p":38.02},{"s":"teeth","i":82,"p":37.71},{"s":"teeth","i":84,"p":37.94},{"s":"teeth","i":86,"p":37.94},{"s":"teeth","i":88,"p":37.86},{"s":"teeth","i":90,"p":37.79},{"s":"teeth","i":92,"p":37.64},{"s":"teeth","i":94,"p":37.67},{"s":"teeth","i":96,"p":37.64},{"s":"teeth","i":98,"p":37.6},{"s":"teeth","i":100,"p":37.6},{"s":"teeth","i":102,"p":37.56},{"s":"teeth","i":104,"p":37.54},{"s":"teeth","i":106,"p":37.56},{"s":"teeth","i":108,"p":37.6},{"s":"teeth","i":110,"p":37.86},{"s":"teeth","i":112,"p":38.32},{"s":"teeth","i":114,"p":38.7},{"s":"teeth","i":116,"p":39.31},{"s":"teeth","i":118,"p":39.77},{"s":"teeth","i":120,"p":40.15},{"s":"teeth","i":122,"p":40.57},{"s":"teeth","i":124,"p":40.87},{"s":"teeth","i":126,"p":40.99},{"s":"teeth","i":128,"p":41.03},{"s":"teeth","i":130,"p":40.91},{"s":"teeth","i":132,"p":40.61},{"s":"teeth","i":134,"p":40.34},{"s":"teeth","i":136,"p":40.11},{"s":"teeth","i":138,"p":39.96},{"s":"teeth","i":140,"p":39.84},{"s":"teeth","i":142,"p":39.84},{"s":"teeth","i":144,"p":39.92},{"s":"teeth","i":146,"p":39.84},{"s":"teeth","i":148,"p":39.81},{"s":"teeth","i":150,"p":39.84},{"s":"teeth","i":152,"p":40.0},{"s":"teeth","i":154,"p":40.11},{"s":"teeth","i":156,"p":40.15},{"s":"teeth","i":158,"p":40.19},{"s":"teeth","i":160,"p":40.3},{"s":"teeth","i":162,"p":40.42},{"s":"teeth","i":164,"p":40.45},{"s":"teeth","i":166,"p":40.42},{"s":"teeth","i":168,"p":40.26},{"s":"teeth","i":170,"p":39.84},{"s":"teeth","i":172,"p":39.58},{"s":"teeth","i":173.75,"p":39.69},{"s":"teeth","i":177.9,"p":39.92},{"s":"teeth","i":179.6,"p":39.84},{"s":"teeth","i":183.75,"p":39.01},{"s":"teeth","i":187.9,"p":38.17},{"s":"teeth","i":189.1,"p":37.9},{"s":"teeth","i":192,"p":37.98},{"s":"teeth","i":196.25,"p":38.63},{"s":"teeth","i":200.4,"p":39.24},{"s":"teeth","i":204.6,"p":39.92},{"s":"teeth","i":208.75,"p":40.53},{"s":"teeth","i":212.9,"p":40.95},{"s":"teeth","i":216.25,"p":41.14},{"s":"teeth","i":217.9,"p":41.1},{"s":"teeth","i":221.25,"p":40.68},{"s":"teeth","i":224.6,"p":40.15},{"s":"teeth","i":226.25,"p":40.04},{"s":"teeth","i":229.6,"p":40.23},{"s":"teeth","i":233.75,"p":40.34},{"s":"teeth","i":236.25,"p":40.68},{"s":"teeth","i":239.6,"p":40.91},{"s":"teeth","i":243.75,"p":40.95},{"s":"teeth","i":248.75,"p":40.91},{"s":"teeth","i":254.6,"p":41.03},{"s":"teeth","i":258.75,"p":41.14},{"s":"teeth","i":261.25,"p":41.22},{"s":"teeth","i":263.75,"p":40.99},{"s":"teeth","i":266.25,"p":40.53},{"s":"teeth","i":269.6,"p":40.45},{"s":"teeth","i":273.75,"p":40.61},{"s":"teeth","i":277.1,"p":40.38},{"s":"teeth","i":279.6,"p":39.77},{"s":"teeth","i":282.1,"p":39.16},{"s":"teeth","i":284.6,"p":39.01},{"s":"teeth","i":286.25,"p":39.08},{"s":"teeth","i":288.75,"p":39.2},{"s":"teeth","i":291.25,"p":39.16},{"s":"teeth","i":293.75,"p":38.85},{"s":"teeth","i":296.25,"p":38.25},{"s":"teeth","i":298.75,"p":37.64},{"s":"teeth","i":301.25,"p":36.95},{"s":"teeth","i":303.75,"p":36.57},{"s":"teeth","i":306.25,"p":36.26},{"s":"teeth","i":307.9,"p":35.73},{"s":"teeth","i":309.6,"p":35.35},{"s":"teeth","i":310.8,"p":35.24},{"s":"teeth","i":312.9,"p":35.5},{"s":"teeth","i":315.4,"p":36.26},{"s":"teeth","i":317.9,"p":37.02},{"s":"teeth","i":320.4,"p":37.48},{"s":"teeth","i":322.9,"p":37.86},{"s":"teeth","i":325.4,"p":38.25},{"s":"teeth","i":327.9,"p":38.63},{"s":"teeth","i":330.4,"p":38.82},{"s":"teeth","i":332.1,"p":38.78},{"s":"teeth","i":333.75,"p":38.63},{"s":"teeth","i":336.25,"p":38.25},{"s":"teeth","i":337.9,"p":38.02},{"s":"teeth","i":340.4,"p":38.09},{"s":"teeth","i":342.1,"p":38.4},{"s":"teeth","i":343.75,"p":39.01},{"s":"teeth","i":345.4,"p":39.5},{"s":"teeth","i":346,"p":39.54},
{"s":"jaw","i":0,"p":42.86},{"s":"jaw","i":5,"p":42.74},{"s":"jaw","i":10,"p":42.55},{"s":"jaw","i":15,"p":42.55},{"s":"jaw","i":18,"p":42.59},{"s":"jaw","i":20,"p":42.66},{"s":"jaw","i":22,"p":42.89},{"s":"jaw","i":24,"p":43.05},{"s":"jaw","i":26,"p":43.16},{"s":"jaw","i":28,"p":43.24},{"s":"jaw","i":31,"p":43.27},{"s":"jaw","i":33,"p":43.24},{"s":"jaw","i":36,"p":43.16},{"s":"jaw","i":40,"p":43.12},{"s":"jaw","i":45,"p":43.16},{"s":"jaw","i":50,"p":43.18},{"s":"jaw","i":55,"p":43.18},{"s":"jaw","i":57,"p":43.16},{"s":"jaw","i":59,"p":42.89},{"s":"jaw","i":61,"p":42.51},{"s":"jaw","i":63,"p":42.21},{"s":"jaw","i":65,"p":41.9},{"s":"jaw","i":67,"p":41.75},{"s":"jaw","i":69,"p":41.67},{"s":"jaw","i":71,"p":41.29},{"s":"jaw","i":73,"p":40.76},{"s":"jaw","i":75,"p":40.3},{"s":"jaw","i":77,"p":40.15},{"s":"jaw","i":79,"p":39.88},{"s":"jaw","i":81,"p":39.3},{"s":"jaw","i":83,"p":38.7},{"s":"jaw","i":84,"p":38.45},{"s":"jaw","i":86,"p":38.09},{"s":"jaw","i":88,"p":38.13},{"s":"jaw","i":90,"p":38.09},{"s":"jaw","i":92,"p":38.02},{"s":"jaw","i":94,"p":37.9},{"s":"jaw","i":96,"p":37.79},{"s":"jaw","i":98,"p":37.75},{"s":"jaw","i":100,"p":37.71},{"s":"jaw","i":102,"p":37.71},{"s":"jaw","i":104,"p":37.67},{"s":"jaw","i":106,"p":37.6},{"s":"jaw","i":108,"p":37.6},{"s":"jaw","i":110,"p":37.64},{"s":"jaw","i":112,"p":37.79},{"s":"jaw","i":114,"p":38.02},{"s":"jaw","i":116,"p":38.36},{"s":"jaw","i":118,"p":38.85},{"s":"jaw","i":120,"p":39.2},{"s":"jaw","i":122,"p":39.62},{"s":"jaw","i":124,"p":40.0},{"s":"jaw","i":126,"p":40.34},{"s":"jaw","i":128,"p":40.57},{"s":"jaw","i":130,"p":40.68},{"s":"jaw","i":132,"p":40.8},{"s":"jaw","i":134,"p":40.72},{"s":"jaw","i":136,"p":40.49},{"s":"jaw","i":138,"p":40.3},{"s":"jaw","i":140,"p":40.19},{"s":"jaw","i":142,"p":40.11},{"s":"jaw","i":144,"p":40.04},{"s":"jaw","i":146,"p":40.0},{"s":"jaw","i":148,"p":39.96},{"s":"jaw","i":150,"p":39.92},{"s":"jaw","i":152,"p":39.84},{"s":"jaw","i":154,"p":39.88},{"s":"jaw","i":156,"p":39.96},{"s":"jaw","i":158,"p":40.07},{"s":"jaw","i":160,"p":40.11},{"s":"jaw","i":162,"p":40.15},{"s":"jaw","i":164,"p":40.23},{"s":"jaw","i":166,"p":40.3},{"s":"jaw","i":168,"p":40.36},{"s":"jaw","i":170,"p":40.36},{"s":"jaw","i":172,"p":40.0},{"s":"jaw","i":173.75,"p":39.77},{"s":"jaw","i":177.1,"p":39.73},{"s":"jaw","i":179.6,"p":39.88},{"s":"jaw","i":182.1,"p":39.92},{"s":"jaw","i":184.6,"p":39.62},{"s":"jaw","i":187.9,"p":39.01},{"s":"jaw","i":191.25,"p":38.4},{"s":"jaw","i":193.75,"p":38.25},{"s":"jaw","i":196.25,"p":38.4},{"s":"jaw","i":199.6,"p":38.85},{"s":"jaw","i":202.9,"p":39.54},{"s":"jaw","i":206.25,"p":39.69},{"s":"jaw","i":209.6,"p":39.92},{"s":"jaw","i":212.9,"p":40.23},{"s":"jaw","i":217.1,"p":40.68},{"s":"jaw","i":220.4,"p":40.91},{"s":"jaw","i":222.9,"p":40.84},{"s":"jaw","i":225.4,"p":40.61},{"s":"jaw","i":227.1,"p":40.38},{"s":"jaw","i":229.6,"p":40.3},{"s":"jaw","i":234.6,"p":40.34},{"s":"jaw","i":237.9,"p":40.53},{"s":"jaw","i":240.4,"p":40.68},{"s":"jaw","i":242.9,"p":40.72},{"s":"jaw","i":246.25,"p":40.84},{"s":"jaw","i":250.4,"p":40.91},{"s":"jaw","i":254.6,"p":40.99},{"s":"jaw","i":258.75,"p":40.99},{"s":"jaw","i":262,"p":41.14},{"s":"jaw","i":265.4,"p":41.14},{"s":"jaw","i":268,"p":40.87},{"s":"jaw","i":270.4,"p":40.61},{"s":"jaw","i":273.75,"p":40.61},{"s":"jaw","i":278.75,"p":40.61},{"s":"jaw","i":280.4,"p":40.3},{"s":"jaw","i":283,"p":39.84},{"s":"jaw","i":285.4,"p":39.5},{"s":"jaw","i":287.9,"p":39.31},{"s":"jaw","i":290.4,"p":39.27},{"s":"jaw","i":292.9,"p":39.27},{"s":"jaw","i":295.4,"p":39.01},{"s":"jaw","i":298.75,"p":38.63},{"s":"jaw","i":301.25,"p":38.25},{"s":"jaw","i":303.75,"p":37.64},{"s":"jaw","i":306.25,"p":36.95},{"s":"jaw","i":308.75,"p":36.49},{"s":"jaw","i":311.25,"p":36.11},{"s":"jaw","i":312.9,"p":35.81},{"s":"jaw","i":314.2,"p":35.69},{"s":"jaw","i":316.25,"p":35.88},{"s":"jaw","i":318.75,"p":36.26},{"s":"jaw","i":322.1,"p":36.72},{"s":"jaw","i":325.4,"p":37.26},{"s":"jaw","i":327.9,"p":37.71},{"s":"jaw","i":330.4,"p":38.13},{"s":"jaw","i":332.9,"p":38.4},{"s":"jaw","i":334.6,"p":38.55},{"s":"jaw","i":336.25,"p":38.51},{"s":"jaw","i":338.75,"p":38.32},{"s":"jaw","i":341.25,"p":38.17},{"s":"jaw","i":342.9,"p":38.13},{"s":"jaw","i":344.6,"p":38.25},{"s":"jaw","i":346.25,"p":38.7},{"s":"jaw","i":347.9,"p":39.08},{"s":"jaw","i":348.75,"p":39.2}
],
"rsi":[
{"i":0,"v":37.2},{"i":1.1,"v":27.5},{"i":2.1,"v":44.2},{"i":3.3,"v":46.9},{"i":4.2,"v":45.6},{"i":5.8,"v":52.5},{"i":7.9,"v":47.5},{"i":9.6,"v":49.7},{"i":10.8,"v":48.3},{"i":11.7,"v":51.1},{"i":13.3,"v":62.2},{"i":14.6,"v":63.1},{"i":17.1,"v":62.2},{"i":18.3,"v":58.1},{"i":19.2,"v":61.4},{"i":22.9,"v":62.2},{"i":24.2,"v":52.5},{"i":26.25,"v":49.2},{"i":27.5,"v":48.3},{"i":28.75,"v":46.4},{"i":30,"v":51.1},{"i":31.25,"v":50.3},{"i":32.9,"v":52.5},{"i":34.6,"v":56.7},{"i":35.8,"v":62.2},{"i":37.9,"v":44.2},{"i":39.6,"v":48.3},{"i":41.25,"v":52.5},{"i":42.9,"v":51.9},{"i":44.2,"v":46.9},{"i":45.4,"v":52.5},{"i":47.1,"v":52.5},{"i":48.3,"v":49.7},{"i":49.2,"v":27.5},{"i":50.4,"v":28.9},{"i":51.25,"v":31.7},{"i":53.75,"v":21.9},{"i":56.25,"v":35.8},{"i":57.9,"v":31.7},{"i":60,"v":44.2},{"i":61.25,"v":28.9},{"i":62.9,"v":23.3},{"i":64.2,"v":30.3},{"i":69.6,"v":30.3},{"i":71.25,"v":26.1},{"i":72.9,"v":16.4},{"i":74.2,"v":22},{"i":75.8,"v":20.6},{"i":77.1,"v":35.8},{"i":79.2,"v":40},{"i":82.1,"v":38.6},{"i":83.75,"v":37.2},{"i":85.4,"v":38.6},{"i":86.25,"v":34.4},{"i":87.1,"v":35.8},{"i":89.2,"v":35.8},{"i":91.25,"v":41.9},{"i":94.2,"v":43.6},{"i":95.4,"v":40.8},{"i":98.75,"v":40},{"i":102,"v":54},{"i":104.6,"v":67},{"i":108.5,"v":78},{"i":111,"v":77},{"i":115,"v":74},{"i":117.5,"v":74},{"i":120,"v":78},{"i":122.6,"v":74},{"i":125,"v":54},{"i":128,"v":45},{"i":133,"v":48},{"i":139.4,"v":45},{"i":143,"v":54},{"i":147,"v":60},{"i":151,"v":54},{"i":156,"v":57},{"i":160,"v":57},{"i":163,"v":31},{"i":166.5,"v":45},{"i":170,"v":54},{"i":174,"v":58},{"i":177,"v":33},{"i":181,"v":28},{"i":185,"v":41},{"i":188.5,"v":56},{"i":194,"v":59},{"i":197.5,"v":53},{"i":201,"v":59},{"i":205,"v":66},{"i":209,"v":69},{"i":212,"v":63},{"i":214.6,"v":53},{"i":218,"v":41},{"i":222,"v":53},{"i":226,"v":49},{"i":230,"v":61},{"i":232.6,"v":63},{"i":235,"v":44},{"i":237.5,"v":54},{"i":241.5,"v":54},{"i":246.5,"v":56},{"i":250.5,"v":53},{"i":254.3,"v":61},{"i":257,"v":57},{"i":259.5,"v":43},{"i":263.3,"v":48},{"i":267,"v":53},{"i":271,"v":50},{"i":273.6,"v":37},{"i":277.5,"v":30},{"i":281.4,"v":35},{"i":285.3,"v":41},{"i":289,"v":33},{"i":293,"v":27},{"i":295.6,"v":30},{"i":298,"v":26},{"i":302,"v":30},{"i":304.6,"v":22},{"i":307,"v":35},{"i":311,"v":59},{"i":315,"v":63},{"i":319,"v":61},{"i":323,"v":59},{"i":327,"v":60},{"i":330.6,"v":53},{"i":333,"v":50},{"i":336,"v":60},{"i":338.2,"v":72},{"i":340,"v":66},{"i":341,"v":60.28}
],
"macd":[
{"s":"macd","i":0,"v":0.03},{"s":"macd","i":2.1,"v":-0.085},{"s":"macd","i":7.1,"v":-0.046},{"s":"macd","i":11.25,"v":0.07},{"s":"macd","i":17.1,"v":0.22},{"s":"macd","i":19.6,"v":0.26},{"s":"macd","i":23.75,"v":0.24},{"s":"macd","i":27.9,"v":0.15},{"s":"macd","i":32.1,"v":0.085},{"s":"macd","i":36.25,"v":0.07},{"s":"macd","i":40.4,"v":0.03},{"s":"macd","i":44.6,"v":0.03},{"s":"macd","i":48.75,"v":-0.01},{"s":"macd","i":52.1,"v":-0.32},{"s":"macd","i":55.4,"v":-0.51},{"s":"macd","i":57.1,"v":-0.56},{"s":"macd","i":58.75,"v":-0.53},{"s":"macd","i":60.4,"v":-0.47},{"s":"macd","i":62.9,"v":-0.78},{"s":"macd","i":66.25,"v":-0.95},{"s":"macd","i":69.6,"v":-0.93},{"s":"macd","i":71.25,"v":-0.93},{"s":"macd","i":72.9,"v":-1.16},{"s":"macd","i":75.8,"v":-1.39},{"s":"macd","i":77.5,"v":-1.24},{"s":"macd","i":79.6,"v":-0.93},{"s":"macd","i":82.1,"v":-0.78},{"s":"macd","i":86.25,"v":-0.66},{"s":"macd","i":90.4,"v":-0.55},{"s":"macd","i":94.6,"v":-0.45},{"s":"macd","i":98.75,"v":-0.35},{"s":"macd","i":107,"v":0.3},{"s":"macd","i":113.6,"v":0.72},{"s":"macd","i":119,"v":0.8},{"s":"macd","i":123,"v":0.75},{"s":"macd","i":128,"v":0.45},{"s":"macd","i":133,"v":0.2},{"s":"macd","i":139.4,"v":0.05},{"s":"macd","i":148.5,"v":0.15},{"s":"macd","i":156,"v":0.1},{"s":"macd","i":164,"v":-0.05},{"s":"macd","i":169,"v":-0.35},{"s":"macd","i":174,"v":-0.25},{"s":"macd","i":179,"v":-0.6},{"s":"macd","i":182,"v":-0.75},{"s":"macd","i":187,"v":-0.5},{"s":"macd","i":192,"v":0.0},{"s":"macd","i":197,"v":0.3},{"s":"macd","i":203,"v":0.55},{"s":"macd","i":206,"v":0.6},{"s":"macd","i":210,"v":0.5},{"s":"macd","i":215.6,"v":0.45},{"s":"macd","i":221,"v":0.25},{"s":"macd","i":226,"v":0.15},{"s":"macd","i":231,"v":0.3},{"s":"macd","i":239,"v":0.25},{"s":"macd","i":246.5,"v":0.2},{"s":"macd","i":254,"v":0.22},{"s":"macd","i":259.5,"v":0.1},{"s":"macd","i":264.6,"v":-0.3},{"s":"macd","i":270,"v":-0.2},{"s":"macd","i":275,"v":-0.4},{"s":"macd","i":280,"v":-0.55},{"s":"macd","i":285.3,"v":-0.5},{"s":"macd","i":290.5,"v":-0.7},{"s":"macd","i":295.6,"v":-0.95},{"s":"macd","i":300.7,"v":-1.1},{"s":"macd","i":304.6,"v":-1.2},{"s":"macd","i":308.5,"v":-0.85},{"s":"macd","i":312,"v":-0.2},{"s":"macd","i":316,"v":0.3},{"s":"macd","i":321,"v":0.55},{"s":"macd","i":325,"v":0.55},{"s":"macd","i":329,"v":0.3},{"s":"macd","i":333,"v":0.05},{"s":"macd","i":335.6,"v":0.1},{"s":"macd","i":338,"v":0.45},{"s":"macd","i":341,"v":0.565},
{"s":"signal","i":0,"v":0.07},{"s":"signal","i":3.75,"v":-0.085},{"s":"signal","i":7.1,"v":-0.046},{"s":"signal","i":11.25,"v":-0.02},{"s":"signal","i":15.4,"v":0.15},{"s":"signal","i":19.6,"v":0.24},{"s":"signal","i":23.75,"v":0.26},{"s":"signal","i":27.9,"v":0.22},{"s":"signal","i":32.1,"v":0.15},{"s":"signal","i":36.25,"v":0.085},{"s":"signal","i":40.4,"v":0.05},{"s":"signal","i":44.6,"v":0.046},{"s":"signal","i":48.75,"v":0.03},{"s":"signal","i":52.9,"v":-0.12},{"s":"signal","i":57.1,"v":-0.32},{"s":"signal","i":61.25,"v":-0.51},{"s":"signal","i":65.4,"v":-0.66},{"s":"signal","i":69.6,"v":-0.82},{"s":"signal","i":73.75,"v":-0.97},{"s":"signal","i":76.25,"v":-1.09},{"s":"signal","i":80,"v":-1.2},{"s":"signal","i":82.1,"v":-1.16},{"s":"signal","i":86.25,"v":-0.97},{"s":"signal","i":90.4,"v":-0.78},{"s":"signal","i":94.6,"v":-0.62},{"s":"signal","i":98.75,"v":-0.47},{"s":"signal","i":107,"v":-0.1},{"s":"signal","i":113.6,"v":0.3},{"s":"signal","i":120,"v":0.6},{"s":"signal","i":125,"v":0.75},{"s":"signal","i":130,"v":0.65},{"s":"signal","i":135.6,"v":0.45},{"s":"signal","i":143.3,"v":0.2},{"s":"signal","i":153.6,"v":0.1},{"s":"signal","i":164,"v":0.05},{"s":"signal","i":171.6,"v":-0.1},{"s":"signal","i":179.4,"v":-0.3},{"s":"signal","i":184.6,"v":-0.45},{"s":"signal","i":189.8,"v":-0.4},{"s":"signal","i":197.5,"v":-0.05},{"s":"signal","i":203,"v":0.25},{"s":"signal","i":208,"v":0.45},{"s":"signal","i":213,"v":0.5},{"s":"signal","i":221,"v":0.35},{"s":"signal","i":229,"v":0.2},{"s":"signal","i":239,"v":0.25},{"s":"signal","i":254,"v":0.2},{"s":"signal","i":262,"v":0.1},{"s":"signal","i":270,"v":-0.1},{"s":"signal","i":277.5,"v":-0.3},{"s":"signal","i":285,"v":-0.4},{"s":"signal","i":293,"v":-0.55},{"s":"signal","i":300.7,"v":-0.85},{"s":"signal","i":307,"v":-1.0},{"s":"signal","i":311,"v":-0.8},{"s":"signal","i":316,"v":-0.4},{"s":"signal","i":321,"v":0.0},{"s":"signal","i":326,"v":0.3},{"s":"signal","i":331.5,"v":0.3},{"s":"signal","i":337,"v":0.25},{"s":"signal","i":341,"v":0.284}
],
"tags":[{"p":41.7,"t":"41.700","k":"lvl"},{"p":39.5,"t":"39.500","k":"lvl"},{"p":36.4,"t":"36.400","k":"lvl"},{"p":39.978,"t":"39.978","k":"bid"}],
"rsilv":[{"v":30},{"v":50},{"v":70}],
"ylab":[{"p":44.15},{"p":43.39},{"p":42.63},{"p":41.89},{"p":41.13},{"p":40.39},{"p":39.63},{"p":38.87},{"p":38.13},{"p":37.37},{"p":36.61},{"p":35.87},{"p":35.11},{"p":34.35},{"p":33.61}]
},
"vconcat":[
{"width":1572,"height":474,
"encoding":{"y":{"field":"p","type":"quantitative","scale":{"domain":[33.564,44.4015],"nice":false,"zero":false},"axis":null}},
"layer":[
{"data":{"name":"ylab"},"mark":{"type":"text","align":"left","baseline":"middle","color":"#000000","fontSize":9,"clip":false},
 "encoding":{"x":{"datum":394.0,"type":"quantitative","scale":{"domain":[-0.375,392.625],"nice":false,"zero":false},"axis":null},"text":{"field":"p","type":"quantitative","format":".3f"}}},
{"data":{"name":"ylab"},"mark":{"type":"rule","color":"#000000","strokeWidth":1,"clip":false},
 "encoding":{"x":{"datum":392.625,"type":"quantitative","scale":{"domain":[-0.375,392.625],"nice":false,"zero":false},"axis":null},"x2":{"datum":393.4}}},
{"data":{"name":"tags"},"transform":[{"filter":"datum.k=='bid'"}],"mark":{"type":"rule","color":"#a0a0a0","strokeWidth":1}},
{"data":{"name":"tags"},"transform":[{"filter":"datum.k=='lvl'"}],"mark":{"type":"rule","color":"#0000ff","strokeWidth":2}},
{"data":{"name":"bars"},"mark":{"type":"rule","strokeWidth":1,"clip":true},
 "encoding":{"x":{"field":"i","type":"quantitative","scale":{"domain":[-0.375,392.625],"nice":false,"zero":false},"axis":null},
 "y":{"field":"l","type":"quantitative","scale":{"domain":[33.564,44.4015],"nice":false,"zero":false},"axis":null},"y2":{"field":"h"},
 "color":{"condition":{"test":"datum.c>=datum.o","value":"#ff0000"},"value":"#000000"}}},
{"data":{"name":"bars"},"mark":{"type":"bar","width":3,"clip":true},
 "encoding":{"x":{"field":"i","type":"quantitative","scale":{"domain":[-0.375,392.625],"nice":false,"zero":false},"axis":null},
 "y":{"field":"o","type":"quantitative","scale":{"domain":[33.564,44.4015],"nice":false,"zero":false},"axis":null},"y2":{"field":"c"},
 "color":{"condition":{"test":"datum.c>=datum.o","value":"#ff0000"},"value":"#000000"}}},
{"data":{"name":"allig"},"mark":{"type":"line","strokeWidth":1,"clip":true},
 "encoding":{"x":{"field":"i","type":"quantitative","scale":{"domain":[-0.375,392.625],"nice":false,"zero":false},"axis":null},
 "color":{"field":"s","type":"nominal","scale":{"domain":["jaw","teeth","lips"],"range":["#0000cc","#e00000","#00cc00"]},"legend":null}}},
{"data":{"values":[{"t":"▼ XTIUSD,H4  39.892 39.983 39.634 39.978"}]},"mark":{"type":"text","align":"left","baseline":"middle","color":"#000000"},
 "encoding":{"x":{"datum":1,"type":"quantitative","scale":{"domain":[-0.375,392.625],"nice":false,"zero":false},"axis":null},"y":{"datum":44.22,"type":"quantitative","scale":{"domain":[33.564,44.4015],"nice":false,"zero":false},"axis":null},"text":{"field":"t"}}},
{"data":{"values":[{"i":341.5,"p":44.33}]},"mark":{"type":"point","shape":"triangle-down","filled":true,"size":30,"color":"#8c8c8c","opacity":1},
 "encoding":{"x":{"field":"i","type":"quantitative","scale":{"domain":[-0.375,392.625],"nice":false,"zero":false},"axis":null}}},
{"data":{"name":"tags"},"mark":{"type":"tick","orient":"horizontal","size":35,"thickness":12,"opacity":1,"clip":false},
 "encoding":{"x":{"datum":397.6,"type":"quantitative","scale":{"domain":[-0.375,392.625],"nice":false,"zero":false},"axis":null},
 "color":{"condition":{"test":"datum.k=='bid'","value":"#000000"},"value":"#0000ff"}}},
{"data":{"name":"tags"},"mark":{"type":"text","align":"center","baseline":"middle","color":"#ffffff","clip":false,"fontSize":9},
 "encoding":{"x":{"datum":397.6,"type":"quantitative","scale":{"domain":[-0.375,392.625],"nice":false,"zero":false},"axis":null},"text":{"field":"t"}}}
]},
{"width":1572,"height":121,
"layer":[
{"data":{"name":"rsilv"},"mark":{"type":"rule","color":"#c0c0c0","strokeDash":[3,3],"strokeWidth":1},
 "encoding":{"y":{"field":"v","type":"quantitative","scale":{"domain":[-5.5,105.5],"nice":false,"zero":false},"axis":{"orient":"right","title":null,"values":[0,30,50,70,100],"tickSize":0,"labelPadding":4,"labelOverlap":false}}}},
{"data":{"name":"rsi"},"mark":{"type":"line","color":"#3a87d6","strokeWidth":1,"clip":true},
 "encoding":{"x":{"field":"i","type":"quantitative","scale":{"domain":[-0.375,392.625],"nice":false,"zero":false},"axis":null},
 "y":{"field":"v","type":"quantitative","scale":{"domain":[-5.5,105.5],"nice":false,"zero":false}}}},
{"data":{"values":[{"t":"RSI(14) 60.2782"}]},"mark":{"type":"text","align":"left","baseline":"middle","color":"#000000"},
 "encoding":{"x":{"datum":1,"type":"quantitative","scale":{"domain":[-0.375,392.625],"nice":false,"zero":false},"axis":null},"y":{"datum":98,"type":"quantitative","scale":{"domain":[-5.5,105.5],"nice":false,"zero":false}},"text":{"field":"t"}}}
]},
{"width":1572,"height":121,
"layer":[
{"data":{"name":"bars"},"transform":[{"window":[{"op":"lag","field":"m","as":"mp"}],"sort":[{"field":"i"}]}],"mark":{"type":"bar","width":3,"clip":true},
 "encoding":{"x":{"field":"i","type":"quantitative","scale":{"domain":[-0.375,392.625],"nice":false,"zero":false},
   "axis":{"orient":"bottom","title":null,"values":[0,16,32,48,64,80,96,112,128,144,160,176,192,208,224,240,256,272,288,304,320,336],"labelExpr":"['21 Aug 2020','26 Aug 00:00','28 Aug 16:00','2 Sep 08:00','7 Sep 00:00','9 Sep 16:00','14 Sep 08:00','17 Sep 00:00','21 Sep 16:00','24 Sep 08:00','29 Sep 00:00','1 Oct 16:00','6 Oct 08:00','9 Oct 00:00','13 Oct 16:00','16 Oct 08:00','21 Oct 00:00','23 Oct 16:00','28 Oct 08:00','2 Nov 00:00','4 Nov 16:00','9 Nov 04:00'][round(datum.value/16)]","labelAlign":"left","labelBaseline":"top","labelDx":2,"labelPadding":-2,"tickSize":6,"labelOverlap":false,"labelFlush":false}},
 "y":{"field":"m","type":"quantitative","scale":{"domain":[-1.5299,1.2686],"nice":false,"zero":false},
   "axis":{"orient":"right","title":null,"values":[1.12979,0,-1.39115],"labelExpr":"datum.value==0?'0.00':format(datum.value,'.5f')","tickSize":0,"labelPadding":2,"labelFontSize":8,"labelOverlap":false}},
 "y2":{"datum":0},
 "color":{"condition":[{"test":"datum.m>=0 && (datum.mp==null || datum.m>=datum.mp)","value":"#33cc33"},{"test":"datum.m>=0","value":"#003a00"},{"test":"datum.mp!=null && datum.m>datum.mp","value":"#ff0000"}],"value":"#5a0000"}}},
{"data":{"name":"macd"},"mark":{"type":"line","strokeWidth":1,"clip":true},
 "encoding":{"x":{"field":"i","type":"quantitative","scale":{"domain":[-0.375,392.625],"nice":false,"zero":false}},
 "y":{"field":"v","type":"quantitative","scale":{"domain":[-1.5299,1.2686],"nice":false,"zero":false}},
 "color":{"field":"s","type":"nominal","scale":{"domain":["macd","signal"],"range":["#3a8ee6","#d2691e"]},"legend":null}}},
{"data":{"values":[{"t":"MACD_OsMA [CurrTF] (12,26,9) 0.56504 0.28448"}]},"mark":{"type":"text","align":"left","baseline":"middle","color":"#000000"},
 "encoding":{"x":{"datum":1,"type":"quantitative","scale":{"domain":[-0.375,392.625],"nice":false,"zero":false}},"y":{"datum":1.085,"type":"quantitative","scale":{"domain":[-1.5299,1.2686],"nice":false,"zero":false}},"text":{"field":"t"}}}
]}
]
}
